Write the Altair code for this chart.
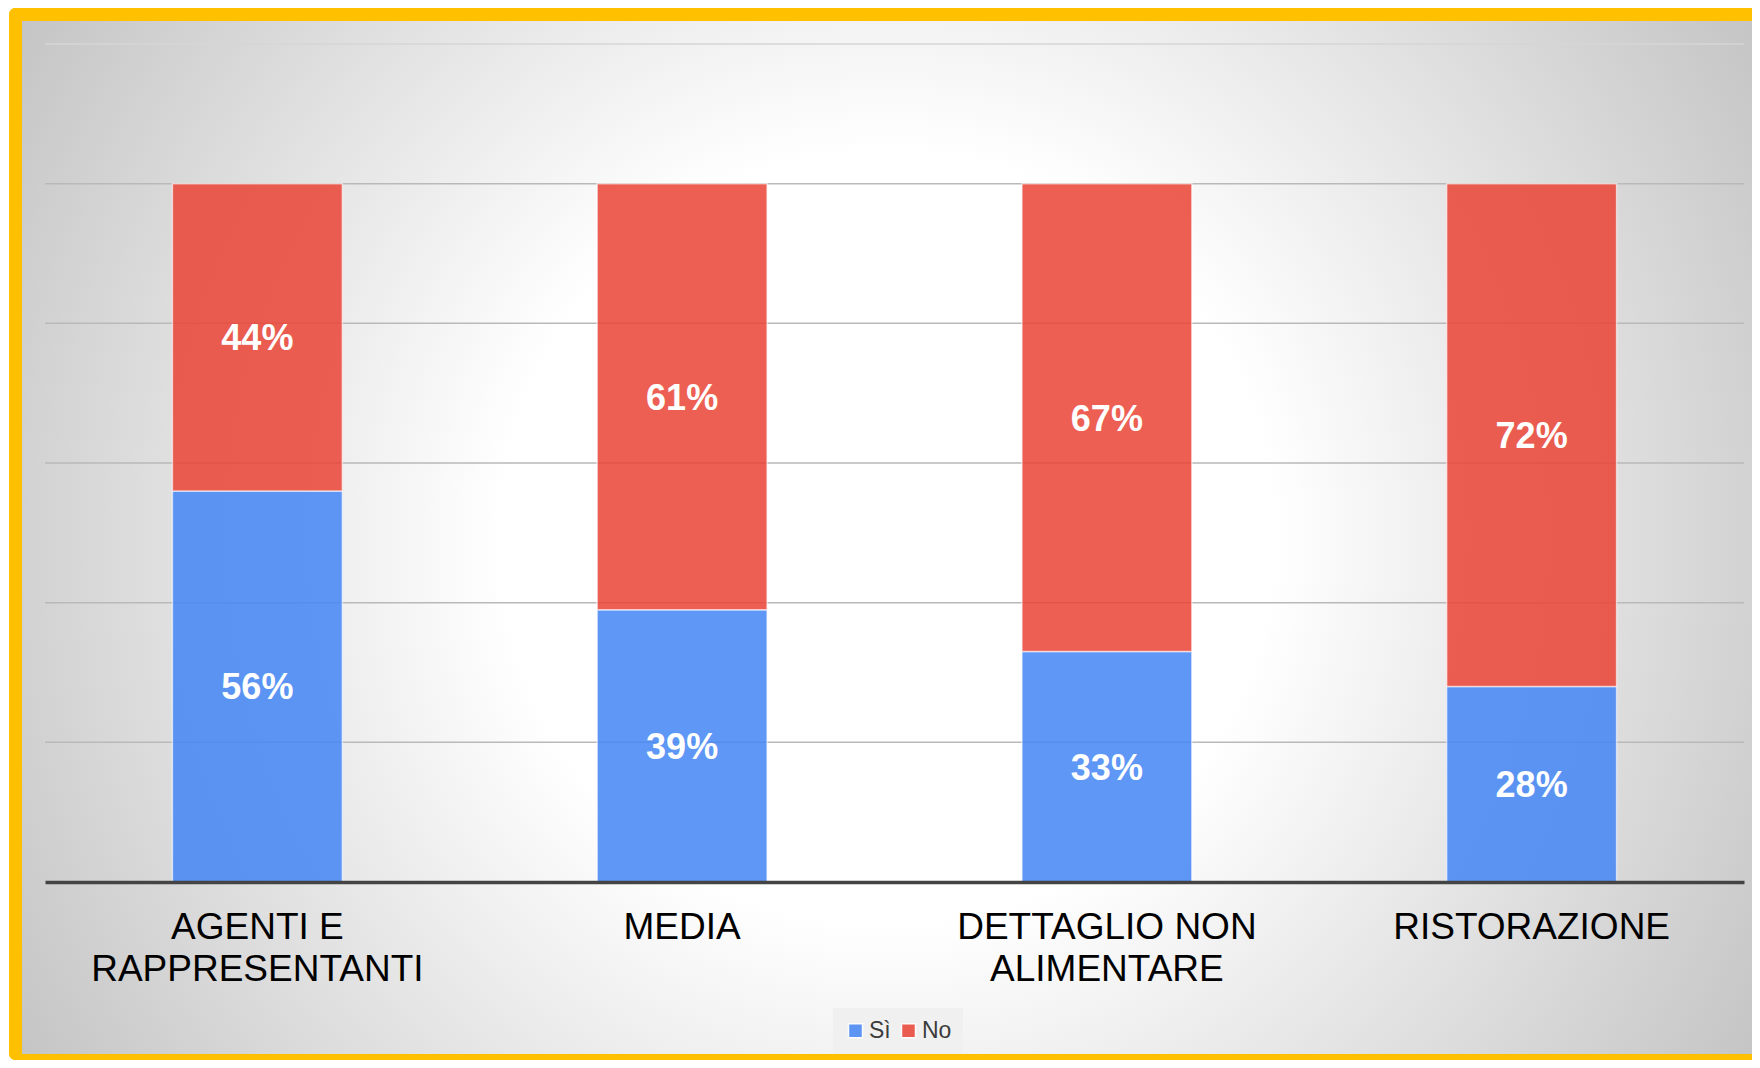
import altair as alt
import pandas as pd

# ---- data ----
categories = ["AGENTI E\nRAPPRESENTANTI", "MEDIA", "DETTAGLIO NON\nALIMENTARE", "RISTORAZIONE"]
series = ["Sì", "No"]
si_values = [0.56, 0.39, 0.33, 0.28]
no_values = [0.44, 0.61, 0.67, 0.72]
grid_values = [0.2, 0.4, 0.6, 0.8, 1.0, 1.2]
series_colors = ["#4285F4", "#EA4335"]

rows = []
for i, c in enumerate(categories):
    rows.append({"category": c, "series": series[0], "idx": 0, "value": si_values[i]})
    rows.append({"category": c, "series": series[1], "idx": 1, "value": no_values[i]})
df = pd.DataFrame(rows)
grid_df = pd.DataFrame({"g": grid_values})
one = pd.DataFrame({"k": [0]})

W, H = 1699, 838
PAD = {"left": 37, "top": 36, "right": 8, "bottom": 178}
FONT = "Liberation Sans"

y_scale = alt.Scale(domain=[0, 1.2])
x_axis = alt.Axis(
    title=None, labelAngle=0, ticks=False, tickSize=0, grid=False,
    labelFont=FONT, labelFontSize=37, labelColor="#000000",
    labelLineHeight=42, labelPadding=27, labelLimit=0, labelOverlap=False,
    labelExpr="split(datum.label, '\\n')",
    domainColor="#444444", domainWidth=3.5, zindex=1,
)
x_enc = alt.X("category:N", sort=categories,
              scale=alt.Scale(paddingInner=0.6, paddingOuter=0.3), axis=x_axis)

# yellow frame
frame = alt.Chart(one).mark_rect(fill="#FFC000", opacity=1, cornerRadius=6).encode(
    x=alt.value(-36), x2=alt.value(1720), y=alt.value(-36), y2=alt.value(1016)
)

# radial gradient background
grad = {
    "gradient": "radial",
    "x1": 0.5, "y1": 0.5, "r1": 0,
    "x2": 0.5, "y2": 0.5, "r2": 0.6,
    "stops": [
        {"offset": 0, "color": "#ffffff"},
        {"offset": 0.37, "color": "#ffffff"},
        {"offset": 1, "color": "#c2c2c2"},
    ],
}
bg = alt.Chart(one).mark_rect(fill=grad, opacity=1).encode(
    x=alt.value(-23), x2=alt.value(1707), y=alt.value(-23), y2=alt.value(1010)
)

grid = alt.Chart(grid_df).mark_rule(strokeWidth=1.5).encode(
    y=alt.Y("g:Q", scale=y_scale, axis=None),
    x=alt.value(0), x2=alt.value(W),
    color=alt.condition("datum.g >= 1.19", alt.value("#d6d6d6"), alt.value("#b9b9b9")),
)

bars = alt.Chart(df).mark_bar(
    fillOpacity=0.85, stroke="#ffffff", strokeOpacity=0.6, strokeWidth=1.5
).encode(
    x=x_enc,
    y=alt.Y("value:Q", stack="zero", scale=y_scale, axis=None),
    color=alt.Color(
        "series:N",
        scale=alt.Scale(domain=series, range=series_colors),
        legend=alt.Legend(
            orient="none", legendX=788, legendY=964, direction="horizontal",
            title=None, symbolType="square", symbolSize=196,
            symbolOpacity=0.85, symbolStrokeColor="#ffffff", symbolStrokeWidth=1.5,
            labelFont=FONT, labelFontSize=23, labelColor="#3c3c3c",
            fillColor="#f0f0f0", padding=11, columnPadding=6, labelOffset=2,
            zindex=1,
        ),
    ),
    order=alt.Order("idx:Q", sort="ascending"),
)

labels = alt.Chart(df).transform_stack(
    stack="value", groupby=["category"], as_=["v0", "v1"],
    sort=[alt.SortField("idx", order="ascending")],
).transform_calculate(
    mid="(datum.v0 + datum.v1) / 2",
    lab="format(datum.value, '.0%')",
).mark_text(
    font=FONT, fontSize=36, fontWeight="bold", color="#ffffff",
    align="center", baseline="middle", dy=2,
).encode(
    x=x_enc,
    y=alt.Y("mid:Q", scale=y_scale, axis=None),
    text="lab:N",
)

chart = alt.layer(frame, bg, grid, bars, labels).properties(
    width=W, height=H, padding=PAD,
    autosize=alt.AutoSizeParams(type="none"),
    background="#ffffff",
).configure_view(strokeWidth=0)

chart.save("out.html", embed_options={"renderer": "svg", "actions": False})
